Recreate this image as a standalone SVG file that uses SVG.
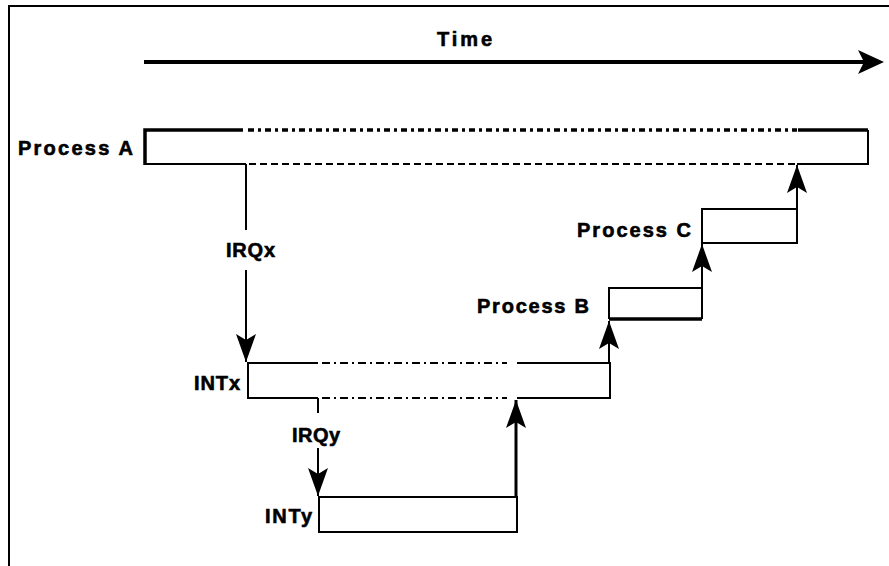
<svg xmlns="http://www.w3.org/2000/svg" width="889" height="566" viewBox="0 0 889 566">
<style>
text{font-family:"Liberation Sans",Arial,sans-serif;font-weight:bold;font-size:20px;fill:#000;stroke:#000;stroke-width:0.6}
.ln{fill:none;stroke:#000;stroke-width:2}
.thk{fill:none;stroke:#000;stroke-width:3.5}
.dot{fill:none;stroke:#000;stroke-width:3.5;stroke-dasharray:6 4 3 4}
.dsh{fill:none;stroke:#000;stroke-width:2;stroke-dasharray:7 4}
.dd{fill:none;stroke:#000;stroke-width:2;stroke-dasharray:8 4 2 4}
.box{fill:#fff;stroke:#000;stroke-width:2}
</style>
<defs>
<marker id="ah" markerUnits="userSpaceOnUse" viewBox="-29 -11 30 22" markerWidth="30" markerHeight="22" refX="0" refY="0" orient="auto">
<path d="M0,0 L-28,-10 L-22,0 L-28,10 Z" fill="#000"/>
</marker>
</defs>
<rect x="0" y="0" width="889" height="566" fill="#fff"/>
<g id="frame">
<path class="ln" d="M9,566 V6 H889"/>
</g>
<g id="time">
<path d="M144,62 H866" fill="none" stroke="#000" stroke-width="4"/>
<path d="M884,62 L858,50 L864,62 L858,74 Z" fill="#000"/>
<text x="437" y="46" textLength="55" lengthAdjust="spacing">Time</text>
</g>
<g id="processA">
<path class="thk" d="M243,130 H145 V165"/>
<path class="ln" d="M145,164 H246"/>
<path class="dot" d="M248,130 H797"/>
<path class="thk" d="M798,130 H868"/>
<path class="ln" d="M868,130 V164 H797"/>
<path class="dsh" d="M249,164 H795"/>
<text x="18" y="155" textLength="115" lengthAdjust="spacing">Process A</text>
</g>
<g id="intx">
<path class="ln" d="M318,363 H248 V398 H318"/>
<path class="dd" d="M322,363 H507"/>
<path class="dd" d="M322,398 H507"/>
<path class="ln" d="M517,363 H610 V398 H517"/>
<text x="194" y="390" textLength="46" lengthAdjust="spacing">INTx</text>
</g>
<g id="inty">
<rect class="box" x="319" y="497" width="198" height="35"/>
<text x="265" y="523" textLength="47" lengthAdjust="spacing">INTy</text>
</g>
<g id="processB">
<path class="ln" d="M609,319 V288 H702 V319"/>
<path class="thk" d="M609,319 H702"/>
<text x="477" y="313" textLength="112" lengthAdjust="spacing">Process B</text>
</g>
<g id="processC">
<rect class="box" x="702" y="209" width="95" height="34"/>
<text x="577" y="237" textLength="114" lengthAdjust="spacing">Process C</text>
</g>
<g id="connectors">
<path class="ln" d="M246,164 V230"/>
<path class="ln" d="M246,270 V362" marker-end="url(#ah)"/>
<text x="226" y="257" textLength="49" lengthAdjust="spacing">IRQx</text>
<path class="ln" d="M318,398 V413"/>
<path class="ln" d="M318,448 V496" marker-end="url(#ah)"/>
<text x="292" y="442" textLength="48" lengthAdjust="spacing">IRQy</text>
<path d="M516,497 V400" fill="none" stroke="#000" stroke-width="3" marker-end="url(#ah)"/>
<path class="ln" d="M609,363 V321" marker-end="url(#ah)"/>
<path class="ln" d="M702,288 V244" marker-end="url(#ah)"/>
<path class="ln" d="M797,209 V165" marker-end="url(#ah)"/>
</g>
</svg>
